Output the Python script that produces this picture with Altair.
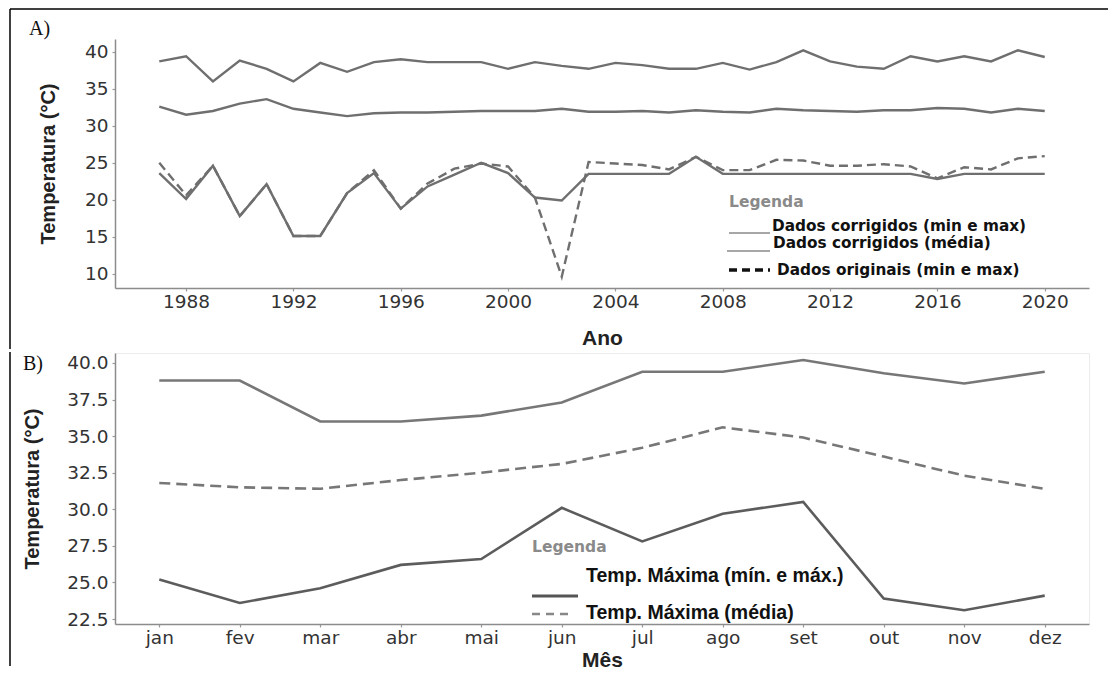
import altair as alt
import pandas as pd

# ---------------- data ----------------
anos = list(range(1987, 2021))
max_corr = [38.7, 39.4, 36.0, 38.8, 37.7, 36.0, 38.5, 37.3, 38.6, 39.0, 38.6, 38.6, 38.6, 37.7, 38.6, 38.1, 37.7,
            38.5, 38.2, 37.7, 37.7, 38.5, 37.6, 38.6, 40.2, 38.7, 38.0, 37.7, 39.4, 38.7, 39.4, 38.7, 40.2, 39.3]
media_corr = [32.6, 31.5, 32.0, 33.0, 33.6, 32.3, 31.8, 31.3, 31.7, 31.8, 31.8, 31.9, 32.0, 32.0, 32.0, 32.3, 31.9,
              31.9, 32.0, 31.8, 32.1, 31.9, 31.8, 32.3, 32.1, 32.0, 31.9, 32.1, 32.1, 32.4, 32.3, 31.8, 32.3, 32.0]
min_corr = [23.6, 20.1, 24.6, 17.8, 22.1, 15.1, 15.1, 20.9, 23.6, 18.8, 21.8, 23.4, 25.0, 23.6, 20.3, 19.9, 23.5,
            23.5, 23.5, 23.5, 25.8, 23.5, 23.5, 23.5, 23.5, 23.5, 23.5, 23.5, 23.5, 22.8, 23.5, 23.5, 23.5, 23.5]
min_orig = [25.0, 20.6, 24.6, 17.8, 22.1, 15.1, 15.1, 20.9, 24.0, 18.8, 22.2, 24.2, 24.9, 24.5, 20.3, 9.6, 25.1,
            24.9, 24.7, 24.1, 25.8, 24.0, 24.0, 25.4, 25.3, 24.6, 24.6, 24.8, 24.5, 22.9, 24.4, 24.1, 25.6, 25.9]

meses = ["jan", "fev", "mar", "abr", "mai", "jun", "jul", "ago", "set", "out", "nov", "dez"]
b_max = [38.8, 38.8, 36.0, 36.0, 36.4, 37.3, 39.4, 39.4, 40.2, 39.3, 38.6, 39.4]
b_media = [31.8, 31.5, 31.4, 32.0, 32.5, 33.1, 34.2, 35.6, 34.9, 33.6, 32.3, 31.4]
b_min = [25.2, 23.6, 24.6, 26.2, 26.6, 30.1, 27.8, 29.7, 30.5, 23.9, 23.1, 24.1]

ticks_ano = list(range(1988, 2021, 4))
ticks_a_temp = [10, 15, 20, 25, 30, 35, 40]
ticks_b_temp = [22.5, 25.0, 27.5, 30.0, 32.5, 35.0, 37.5, 40.0]

leg_a = ["Dados corrigidos (min e max)", "Dados corrigidos (média)", "Dados originais (min e max)"]
leg_b = ["Temp. Máxima (mín. e máx.)", "Temp. Máxima (média)"]

# ---------------- tables ----------------
dfA_solid = pd.DataFrame({
    "ano": anos * 3,
    "temp": max_corr + media_corr + min_corr,
    "serie": ["max"] * len(anos) + ["media"] * len(anos) + ["min"] * len(anos),
})
dfA_dash = pd.DataFrame({"ano": anos, "temp": min_orig})

dfB_solid = pd.DataFrame({
    "mes": meses * 2,
    "temp": b_max + b_min,
    "serie": ["max"] * 12 + ["min"] * 12,
})
dfB_dash = pd.DataFrame({"mes": meses, "temp": b_media})

W = 974
HA = 249
HB = 271
GRAY = "#6f6f6f"

one = alt.Data(values=[{}])


def px_rule(x, y, x2=None, y2=None, color="black", width=1.5, dash=None):
    enc = dict(x=alt.value(x), y=alt.value(y))
    if x2 is not None:
        enc["x2"] = alt.value(x2)
    if y2 is not None:
        enc["y2"] = alt.value(y2)
    mk = dict(color=color, strokeWidth=width)
    if dash:
        mk["strokeDash"] = dash
    return alt.Chart(one).mark_rule(**mk).encode(**enc)


def px_text(txt, x, y, **kw):
    return alt.Chart(one).mark_text(align="left", baseline="middle", **kw).encode(
        x=alt.value(x), y=alt.value(y), text=alt.value(txt))


axis_common = dict(
    domainColor="#8c8c8c", domainWidth=1.5, tickColor="#9a9a9a", tickSize=3, tickWidth=1.2,
    labelColor="#333333", labelFont="DejaVu Sans", labelFontSize=18.5, grid=False,
    titleFont="Liberation Sans", titleFontWeight="bold", titleColor="#222222", titleBaseline="middle",
)

# ---------------- panel A ----------------
xA = alt.X("ano:Q", scale=alt.Scale(domain=[1985.35, 2021.65], nice=False, zero=False),
           axis=alt.Axis(values=ticks_ano, format="d", title="Ano", titleFontSize=21, labelPadding=1,
                         titleX=W / 2, titleY=50, **axis_common))
yA = alt.Y("temp:Q", scale=alt.Scale(domain=[8.07, 41.73], nice=False, zero=False),
           axis=alt.Axis(values=ticks_a_temp, title="Temperatura (°C)", titleFontSize=20, labelPadding=4,
                         titleX=-67, titleY=HA / 2, **axis_common))

dashA = alt.Chart(dfA_dash).mark_line(color=GRAY, strokeWidth=2.4, strokeDash=[9, 5]).encode(x=xA, y=yA)
solidA = alt.Chart(dfA_solid).mark_line(color=GRAY, strokeWidth=2.4).encode(x=xA, y=yA, detail="serie:N")

legA = [
    px_text("Legenda", 614, 163, font="DejaVu Sans", fontSize=15.5, fontWeight="bold", color="#8a8a8a"),
    px_rule(614, 194, x2=655, color="#8a8a8a", width=1.5),
    px_text(leg_a[0], 657, 187, font="DejaVu Sans", fontSize=15.3, fontWeight="bold", color="#111111"),
    px_rule(612, 212, x2=655, color="#8a8a8a", width=1.5),
    px_text(leg_a[1], 658, 204, font="DejaVu Sans", fontSize=15.3, fontWeight="bold", color="#111111"),
    px_rule(614, 231, x2=655, color="#111111", width=3.5, dash=[8, 5]),
    px_text(leg_a[2], 662, 231, font="DejaVu Sans", fontSize=15.3, fontWeight="bold", color="#111111"),
]

decoA = [
    px_rule(-105, -30, x2=993, color="black", width=1.5),
    px_rule(-105, -30, y2=310, color="black", width=1.5),
    px_text("A)", -86, -10, font="Liberation Serif", fontSize=20, color="#111111"),
]

chartA = alt.layer(dashA, solidA, *legA, *decoA).properties(width=W, height=HA)

# ---------------- panel B ----------------
xB = alt.X("mes:O", sort=meses, scale=alt.Scale(type="point", padding=0.55),
           axis=alt.Axis(labelAngle=0, title="Mês", titleFontSize=21, labelPadding=1, titleX=W / 2, titleY=36,
                         **axis_common))
yB = alt.Y("temp:Q", scale=alt.Scale(domain=[22.16, 40.68], nice=False, zero=False),
           axis=alt.Axis(values=ticks_b_temp, format=".1f", title="Temperatura (°C)", titleFontSize=20,
                         labelPadding=4, titleX=-83, titleY=HB / 2, **axis_common))

dashB = alt.Chart(dfB_dash).mark_line(color="#777777", strokeWidth=2.6, strokeDash=[11, 6]).encode(x=xB, y=yB)
solidB = alt.Chart(dfB_solid).mark_line(strokeWidth=2.6).encode(
    x=xB, y=yB, detail="serie:N",
    color=alt.Color("serie:N", scale=alt.Scale(domain=["max", "min"], range=["#777777", "#5c5c5c"]), legend=None))

NARROW = "Liberation Sans Narrow, Arial Narrow, Liberation Sans"
legB = [
    px_text("Legenda", 417, 194, font="DejaVu Sans", fontSize=15.5, fontWeight="bold", color="#8a8a8a"),
    px_text(leg_b[0], 471, 223, font=NARROW, fontSize=19.5, fontWeight="bold", color="#111111"),
    px_rule(417, 243, x2=463, color="#555555", width=3),
    px_rule(417, 261, x2=457, color="#888888", width=2.5, dash=[8, 6]),
    px_text(leg_b[1], 471, 260, font=NARROW, fontSize=19.5, fontWeight="bold", color="#111111"),
]

decoB = [
    px_rule(-105, -1, y2=313, color="black", width=1.5),
    px_text("B)", -92, 11, font="Liberation Serif", fontSize=20, color="#111111"),
]

chartB = alt.layer(dashB, solidB, *legB, *decoB).properties(
    width=W, height=HB, view=alt.ViewBackground(stroke="#ececec"))

chart = alt.vconcat(chartA, chartB, spacing=0).properties(
    padding={"left": 0, "top": 0, "right": 0, "bottom": 0}
).configure_view(stroke=None)

chart.save("out.html", embed_options={"renderer": "svg", "actions": False})
